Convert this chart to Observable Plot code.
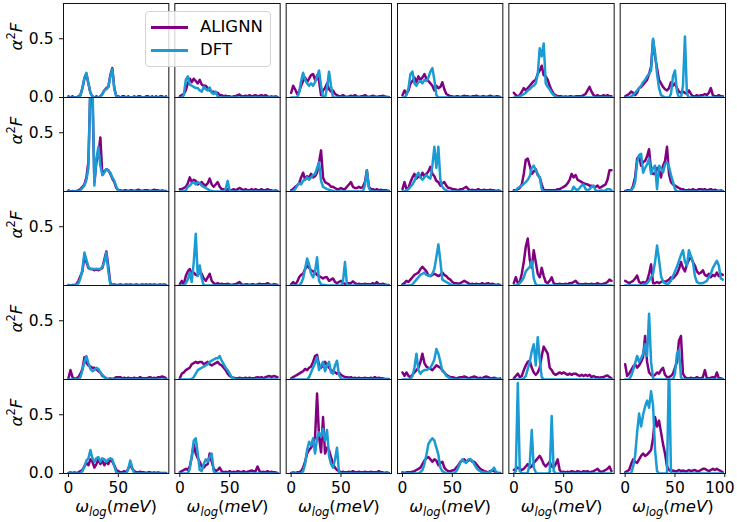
<!DOCTYPE html>
<html>
<head>
<meta charset="utf-8">
<script src="https://cdn.jsdelivr.net/npm/d3@7"></script>
<script src="https://cdn.jsdelivr.net/npm/@observablehq/plot@0.6"></script>
<style>
  body { margin: 0; background: #fff; }
  #wrap { position: relative; width: 737px; height: 522px; font-family: "DejaVu Sans", sans-serif; }
  #legend { position: absolute; left: 145px; top: 11px; width: 126px; height: 56px; box-sizing: border-box;
            border: 1px solid #d3d3d3; border-radius: 4px; background: rgba(255,255,255,0.8); z-index: 2; }
  .lg-line { position: absolute; left: 5px; width: 37px; height: 2.5px; }
  .lg-text { position: absolute; left: 54px; height: 20px; line-height: 20px; font-size: 16.5px; color: #000; }
</style>
</head>
<body>
<div id="wrap">
  <div id="legend">
    <div class="lg-line" style="top:14px;background:#800080"></div>
    <div class="lg-text" style="top:5px">ALIGNN</div>
    <div class="lg-line" style="top:37px;background:#1a9bd3"></div>
    <div class="lg-text" style="top:28px">DFT</div>
  </div>
</div>
<script>
// x grid (meV)
const omega = [0,2,4,6,8,10,12,14,16,18,20,22,24,26,28,30,32,34,36,38,40,42,44,46,48,50,52,54,56,58,60,62,64,66,68,70,72,74,76,78,80,82,84,86,88,90,92,94,96,98];

// ---- Row 1 ----
const alignn_r1c1 = [0.01,0,0.01,0,0,0.01,0.02,0.08,0.16,0.2, 0.12,0.04,0.01,0,0.01,0,0.01,0.03,0.06,0.08, 0.09,0.19,0.25,0.08,0.01,0.01,0,0.01,0.01,0, 0.01,0,0,0.01,0,0.01,0.01,0,0,0.01, 0.01,0,0.01,0,0.01,0,0.01,0.01,0,0.01];
const dft_r1c1    = [0,0,0,0,0,0,0.02,0.08,0.17,0.21, 0.12,0.04,0.01,0,0,0,0.01,0.03,0.06,0.07, 0.09,0.18,0.24,0.07,0.01,0,0,0,0,0, 0,0,0,0,0,0,0,0,0,0, 0,0,0,0,0,0,0,0,0,0];
const alignn_r1c2 = [0.01,0.02,0.03,0.06,0.12,0.16,0.13,0.16,0.14,0.12, 0.15,0.11,0.1,0.1,0.08,0.06,0.05,0.05,0.035,0.04, 0.02,0.02,0.01,0.015,0.01,0.01,0.005,0.01,0.01,0.02, 0.025,0.01,0.01,0.015,0.01,0.02,0.01,0.015,0.02,0.01, 0.015,0.02,0.01,0.02,0.01,0.005,0.01,0.005,0.01,0.005];
const dft_r1c2    = [0,0,0.02,0.15,0.18,0.11,0.1,0.09,0.08,0.08, 0.06,0.05,0.09,0.07,0.06,0.085,0.04,0.03,0.05,0.01, 0,0,0,0,0,0,0,0,0,0, 0,0,0,0,0,0,0,0,0,0, 0,0,0,0,0,0,0,0,0,0];
const alignn_r1c3 = [0.04,0.1,0.07,0.03,0.05,0.1,0.14,0.17,0.13,0.16, 0.19,0.2,0.15,0.19,0.14,0.02,0.06,0.08,0.12,0.07, 0.05,0.06,0.03,0.02,0.01,0.01,0.02,0.01,0.005,0.01, 0.015,0.01,0.02,0.01,0.005,0.01,0.01,0.02,0.01,0.005, 0.01,0.015,0.01,0.005,0.01,0.01,0.015,0.01,0.005,0.005];
const dft_r1c3    = [0,0,0,0,0.04,0.14,0.21,0.15,0.12,0.1, 0.12,0.1,0.13,0.18,0.23,0.1,0,0,0.08,0.22, 0.1,0,0,0,0,0,0,0,0,0, 0,0,0,0,0,0,0,0,0,0, 0,0,0,0,0,0,0,0,0,0];
const alignn_r1c4 = [0.02,0.06,0.03,0.06,0.12,0.14,0.17,0.13,0.18,0.15, 0.17,0.2,0.16,0.14,0.12,0.1,0.06,0.1,0.08,0.09, 0.13,0.07,0.03,0.02,0.01,0.01,0.005,0.01,0.01,0.005, 0.01,0.015,0.01,0.01,0.005,0.01,0.01,0.015,0.01,0.005, 0.01,0.01,0.005,0.01,0.015,0.01,0.005,0.01,0.01,0.005];
const dft_r1c4    = [0,0,0.02,0.08,0.2,0.22,0.12,0.1,0.13,0.14, 0.12,0.15,0.14,0.17,0.22,0.25,0.15,0.02,0,0, 0,0,0,0,0,0,0,0,0,0, 0,0,0,0,0,0,0,0,0,0, 0,0,0,0,0,0,0,0,0,0];
const alignn_r1c5 = [0.04,0.02,0.01,0.02,0.05,0.08,0.06,0.08,0.1,0.12, 0.14,0.15,0.2,0.23,0.27,0.19,0.18,0.15,0.1,0.06, 0.03,0.02,0.01,0.01,0.01,0.005,0.01,0.005,0.01,0.01, 0.005,0.01,0.01,0.01,0.01,0.02,0.03,0.06,0.09,0.05, 0.02,0.01,0.02,0.01,0.01,0.02,0.01,0.02,0.01,0.01];
const dft_r1c5    = [0,0,0.005,0.01,0.02,0.03,0.04,0.06,0.07,0.09, 0.1,0.12,0.2,0.42,0.35,0.46,0.12,0.09,0.07,0.04, 0.02,0.01,0,0,0,0,0,0,0,0, 0,0,0,0,0,0,0,0,0,0, 0,0,0,0,0,0,0,0,0,0];
const alignn_r1c6 = [0.01,0.02,0.03,0.05,0.04,0.02,0.04,0.08,0.09,0.11, 0.13,0.15,0.2,0.26,0.49,0.35,0.25,0.15,0.12,0.09, 0.07,0.06,0.08,0.13,0.1,0.12,0.08,0.05,0.04,0.05, 0.04,0.03,0.06,0.03,0.01,0.01,0.02,0.01,0.02,0.02, 0.03,0.02,0.04,0.08,0.02,0.01,0.01,0.02,0.01,0.01];
const dft_r1c6    = [0,0,0,0.01,0.02,0.04,0.06,0.08,0.1,0.13, 0.15,0.18,0.2,0.23,0.5,0.38,0.2,0.08,0.02,0.01, 0,0,0,0.03,0.18,0.23,0.05,0,0,0.1, 0.52,0.03,0,0,0,0,0,0,0,0, 0,0,0,0,0,0,0,0,0,0];

// ---- Row 2 ----
const alignn_r2c1 = [0.01,0,0.005,0,0.005,0.01,0.02,0.04,0.06,0.12, 0.25,0.9,0.85,0.08,0.25,0.32,0.46,0.14,0.17,0.19, 0.18,0.15,0.11,0.08,0.03,0.01,0.01,0.005,0.01,0.01, 0.005,0.01,0.01,0.005,0.01,0.015,0.01,0.005,0.01,0.01, 0.01,0.005,0.01,0.015,0.01,0.01,0.005,0.01,0.005,0.005];
const dft_r2c1    = [0,0,0,0,0,0,0.01,0.03,0.05,0.1, 0.2,0.95,0.95,0.05,0.28,0.38,0.22,0.14,0.16,0.19, 0.18,0.16,0.12,0.09,0.04,0.01,0,0,0,0, 0,0,0,0,0,0,0,0,0,0, 0,0,0,0,0,0,0,0,0,0];
const alignn_r2c2 = [0.02,0.02,0.03,0.04,0.07,0.12,0.08,0.1,0.09,0.06, 0.07,0.08,0.06,0.05,0.07,0.11,0.06,0.04,0.06,0.08, 0.04,0.02,0.02,0.01,0.02,0.01,0.01,0.02,0.01,0.02, 0.03,0.02,0.01,0.02,0.01,0.01,0.02,0.01,0.02,0.01, 0.01,0.02,0.01,0.01,0.02,0.01,0.01,0.005,0.01,0.005];
const dft_r2c2    = [0,0,0,0.01,0.04,0.05,0.07,0.08,0.06,0.08, 0.07,0.05,0.04,0.03,0.02,0.01,0.005,0,0,0, 0,0,0,0.02,0.09,0.01,0,0,0,0, 0,0,0,0,0,0,0,0,0,0, 0,0,0,0,0,0,0,0,0,0];
const alignn_r2c3 = [0.01,0.02,0.04,0.05,0.07,0.12,0.16,0.1,0.13,0.12, 0.15,0.12,0.13,0.16,0.25,0.35,0.12,0.08,0.07,0.06, 0.04,0.04,0.03,0.02,0.02,0.03,0.02,0.02,0.04,0.06, 0.08,0.04,0.03,0.03,0.04,0.03,0.04,0.08,0.18,0.04, 0.02,0.02,0.01,0.02,0.01,0.015,0.01,0.01,0.01,0.005];
const dft_r2c3    = [0,0.005,0.02,0.05,0.07,0.06,0.09,0.1,0.12,0.1, 0.12,0.14,0.15,0.2,0.25,0.09,0.04,0.03,0.02,0.015, 0.01,0.005,0,0,0,0,0,0,0,0, 0,0,0,0,0,0,0,0.05,0.18,0.03, 0,0,0,0,0,0,0,0,0,0];
const alignn_r2c4 = [0.02,0.08,0.02,0.03,0.08,0.12,0.15,0.11,0.13,0.12, 0.16,0.13,0.15,0.17,0.21,0.15,0.13,0.09,0.08,0.05, 0.07,0.08,0.05,0.03,0.03,0.02,0.02,0.015,0.01,0.02, 0.02,0.03,0.04,0.02,0.01,0.015,0.01,0.01,0.02,0.01, 0.01,0.015,0.01,0.01,0.015,0.01,0.01,0.005,0.01,0.005];
const dft_r2c4    = [0,0,0.01,0.02,0.04,0.06,0.09,0.13,0.16,0.12, 0.1,0.12,0.14,0.12,0.11,0.22,0.38,0.2,0.38,0.1, 0.04,0.02,0.01,0,0,0,0,0,0,0, 0,0,0,0,0,0,0,0,0,0, 0,0,0,0,0,0,0,0,0,0];
const alignn_r2c5 = [0.01,0.01,0.02,0.03,0.06,0.15,0.27,0.28,0.22,0.15, 0.17,0.19,0.14,0.12,0.06,0.01,0.01,0.01,0.01,0.01, 0.01,0.01,0.02,0.02,0.03,0.04,0.05,0.07,0.1,0.15, 0.12,0.14,0.1,0.09,0.08,0.07,0.065,0.06,0.05,0.05, 0.04,0.04,0.05,0.03,0.04,0.05,0.06,0.1,0.18,0.18];
const dft_r2c5    = [0,0.01,0.03,0.04,0.05,0.065,0.08,0.1,0.13,0.2, 0.22,0.18,0.15,0.12,0.02,0,0,0,0,0, 0,0,0,0,0,0,0,0,0,0, 0.04,0.02,0.01,0.03,0.05,0.06,0.02,0.01,0.02,0.04, 0.05,0.01,0.005,0.005,0.01,0.005,0.01,0.02,0.02,0.01];
const alignn_r2c6 = [0.005,0.01,0.01,0.01,0.05,0.12,0.28,0.3,0.22,0.25, 0.26,0.3,0.36,0.18,0.15,0.15,0.2,0.18,0.12,0.22, 0.26,0.38,0.15,0.08,0.06,0.05,0.04,0.03,0.02,0.02, 0.01,0.01,0.015,0.01,0.02,0.01,0.01,0.02,0.02,0.015, 0.02,0.01,0.015,0.02,0.01,0.015,0.01,0.005,0.01,0.005];
const dft_r2c6    = [0,0,0.005,0.01,0.03,0.08,0.25,0.31,0.32,0.16, 0.2,0.23,0.28,0.15,0.2,0.22,0.02,0.22,0.2,0.16, 0.23,0.25,0.21,0.14,0.08,0.02,0,0,0,0, 0,0,0,0,0,0,0,0,0,0, 0,0,0,0,0,0,0,0,0,0];

// ---- Row 3 ----
const alignn_r3c1 = [0.005,0,0.005,0.005,0.01,0.04,0.08,0.12,0.25,0.2, 0.15,0.14,0.14,0.13,0.14,0.13,0.14,0.15,0.22,0.29, 0.16,0.02,0.005,0.01,0.005,0.005,0.01,0.005,0.005,0.01, 0.005,0.01,0.005,0.005,0.01,0.005,0.005,0.01,0.005,0.01, 0.005,0.01,0.005,0.01,0.005,0.005,0.01,0.005,0.01,0.005];
const dft_r3c1    = [0,0,0,0,0,0.02,0.06,0.14,0.28,0.22, 0.16,0.14,0.14,0.14,0.14,0.14,0.14,0.16,0.2,0.28, 0.12,0.01,0,0,0,0,0,0,0,0, 0,0,0,0,0,0,0,0,0,0, 0,0,0,0,0,0,0,0,0,0];
const alignn_r3c2 = [0.01,0.04,0.01,0.08,0.12,0.14,0.1,0.11,0.09,0.085, 0.12,0.1,0.06,0.04,0.07,0.1,0.04,0.02,0.01,0.02, 0.01,0.015,0.01,0.01,0.015,0.01,0.005,0.01,0.01,0.02, 0.03,0.01,0.005,0.01,0.01,0.005,0.01,0.01,0.005,0.01, 0.015,0.01,0.01,0.01,0.02,0.01,0.005,0.01,0.01,0.005];
const dft_r3c2    = [0,0,0,0.02,0.05,0.11,0.03,0.2,0.44,0.08, 0.17,0.06,0,0,0,0,0,0,0,0, 0,0,0,0,0,0,0,0,0,0, 0,0,0,0,0,0,0,0,0,0, 0,0,0,0,0,0,0,0,0,0];
const alignn_r3c3 = [0.01,0.03,0.01,0.03,0.07,0.09,0.1,0.14,0.17,0.15, 0.13,0.12,0.11,0.09,0.08,0.07,0.06,0.07,0.07,0.04, 0.05,0.06,0.03,0.02,0.03,0.04,0.02,0.015,0.01,0.02, 0.02,0.035,0.02,0.01,0.015,0.01,0.01,0.015,0.01,0.01, 0.01,0.02,0.01,0.03,0.01,0.01,0.015,0.01,0.005,0.005];
const dft_r3c3    = [0,0,0,0,0,0.02,0.06,0.14,0.23,0.18, 0.1,0.07,0.12,0.24,0.04,0.01,0.005,0.005,0,0, 0,0,0,0,0,0,0.03,0.2,0.01,0, 0,0,0,0,0,0,0,0,0,0, 0,0,0,0,0,0,0,0,0,0];
const alignn_r3c4 = [0.01,0.02,0.04,0.03,0.05,0.07,0.09,0.1,0.11,0.14, 0.16,0.14,0.12,0.085,0.08,0.09,0.1,0.09,0.08,0.09, 0.11,0.09,0.08,0.06,0.05,0.03,0.02,0.02,0.015,0.02, 0.03,0.04,0.03,0.02,0.01,0.015,0.01,0.015,0.01,0.01, 0.02,0.01,0.015,0.02,0.01,0.015,0.01,0.005,0.01,0.005];
const dft_r3c4    = [0,0,0,0,0,0.01,0.03,0.05,0.07,0.09, 0.1,0.11,0.09,0.085,0.08,0.1,0.14,0.24,0.35,0.21, 0.05,0.04,0.03,0.02,0.01,0.005,0,0,0,0, 0,0,0,0,0,0,0,0,0,0, 0,0,0,0,0,0,0,0,0,0];
const alignn_r3c5 = [0.02,0.07,0.02,0.03,0.1,0.2,0.33,0.4,0.22,0.15, 0.3,0.2,0.1,0.07,0.15,0.08,0.03,0.02,0.04,0.07, 0.02,0.01,0.01,0.015,0.01,0.01,0.015,0.01,0.02,0.02, 0.03,0.04,0.02,0.01,0.01,0.01,0.015,0.01,0.01,0.015, 0.01,0.01,0.02,0.01,0.01,0.015,0.02,0.03,0.05,0.04];
const dft_r3c5    = [0,0,0.01,0.02,0.04,0.07,0.12,0.14,0.16,0.21, 0.06,0.01,0,0,0,0,0,0,0,0, 0,0,0,0,0,0,0,0,0,0, 0,0,0,0,0,0,0,0,0,0, 0,0,0,0,0,0,0,0,0,0];
const alignn_r3c6 = [0.04,0.03,0.02,0.03,0.04,0.06,0.085,0.03,0.02,0.03, 0.02,0.04,0.1,0.18,0.02,0.02,0.03,0.02,0.03,0.04, 0.03,0.04,0.05,0.07,0.06,0.08,0.1,0.14,0.2,0.15, 0.12,0.18,0.22,0.24,0.2,0.17,0.12,0.1,0.11,0.13, 0.09,0.08,0.1,0.07,0.09,0.08,0.11,0.08,0.1,0.09];
const dft_r3c6    = [0,0,0,0,0,0,0,0,0,0, 0.01,0.02,0.04,0.07,0.1,0.2,0.34,0.22,0.08,0.03, 0.02,0.01,0.02,0.04,0.08,0.12,0.16,0.21,0.26,0.3, 0.2,0.17,0.3,0.25,0.2,0.08,0.03,0.02,0.02,0.02, 0.03,0.04,0.07,0.1,0.15,0.18,0.21,0.17,0.06,0.05];

// ---- Row 4 ----
const alignn_r4c1 = [0.01,0.08,0.02,0.005,0.01,0.02,0.05,0.09,0.19,0.14, 0.12,0.11,0.1,0.1,0.09,0.07,0.06,0.03,0.02,0.01, 0.005,0.01,0.005,0.01,0.02,0.02,0.02,0.01,0.015,0.01, 0.015,0.01,0.01,0.015,0.01,0.01,0.02,0.01,0.01,0.01, 0.015,0.02,0.01,0.015,0.01,0.02,0.02,0.025,0.02,0.01];
const dft_r4c1    = [0,0,0,0,0,0,0.02,0.08,0.15,0.2, 0.14,0.09,0.07,0.08,0.1,0.09,0.06,0.04,0.02,0.005, 0,0,0,0,0,0,0,0,0,0, 0,0,0,0,0,0,0,0,0,0, 0,0,0,0,0,0,0,0,0,0];
const alignn_r4c2 = [0.01,0.05,0.06,0.08,0.09,0.1,0.13,0.14,0.15,0.14, 0.15,0.15,0.13,0.14,0.15,0.13,0.12,0.13,0.14,0.15, 0.13,0.12,0.1,0.08,0.05,0.03,0.02,0.015,0.01,0.01, 0.015,0.01,0.01,0.015,0.01,0.015,0.01,0.01,0.015,0.02, 0.015,0.02,0.01,0.02,0.025,0.03,0.02,0.03,0.025,0.02];
const dft_r4c2    = [0,0,0,0,0,0,0.005,0.02,0.05,0.08, 0.09,0.1,0.11,0.12,0.13,0.15,0.16,0.17,0.18,0.18, 0.2,0.16,0.13,0.1,0.08,0.05,0.02,0.01,0,0, 0,0,0,0,0,0,0,0,0,0, 0,0,0,0,0,0,0,0,0,0];
const alignn_r4c3 = [0.01,0.02,0.03,0.04,0.05,0.06,0.07,0.09,0.08,0.1, 0.11,0.15,0.2,0.21,0.12,0.1,0.12,0.15,0.12,0.1, 0.08,0.07,0.06,0.05,0.06,0.04,0.03,0.02,0.02,0.015, 0.02,0.01,0.015,0.01,0.015,0.01,0.01,0.015,0.01,0.01, 0.015,0.01,0.02,0.01,0.015,0.01,0.01,0.005,0.005,0.005];
const dft_r4c3    = [0,0,0,0,0,0,0,0,0,0.02, 0.06,0.1,0.14,0.19,0.08,0.12,0.15,0.07,0.12,0.15, 0.06,0.05,0.12,0.16,0.04,0.01,0,0,0,0, 0,0,0,0,0,0,0,0,0,0, 0,0,0,0,0,0,0,0,0,0];
const alignn_r4c4 = [0.06,0.03,0.06,0.03,0.02,0.04,0.06,0.08,0.1,0.15, 0.22,0.14,0.11,0.1,0.09,0.08,0.1,0.12,0.11,0.1, 0.08,0.06,0.04,0.03,0.02,0.02,0.015,0.01,0.015,0.02, 0.02,0.025,0.02,0.01,0.015,0.02,0.025,0.02,0.01,0.015, 0.01,0.02,0.025,0.02,0.01,0.01,0.015,0.01,0.005,0.01];
const dft_r4c4    = [0,0,0,0,0.005,0.03,0.1,0.22,0.08,0.05, 0.07,0.08,0.08,0.09,0.1,0.13,0.17,0.26,0.22,0.15, 0.07,0.06,0.03,0.02,0.01,0,0,0,0,0, 0,0,0,0,0,0,0,0,0,0, 0,0,0,0,0,0,0,0,0,0];
const alignn_r4c5 = [0.01,0.03,0.05,0.02,0.03,0.08,0.12,0.15,0.16,0.1, 0.06,0.04,0.06,0.1,0.2,0.28,0.25,0.22,0.1,0.08, 0.05,0.04,0.05,0.06,0.05,0.06,0.05,0.04,0.05,0.04, 0.05,0.05,0.04,0.03,0.04,0.03,0.04,0.03,0.04,0.02, 0.03,0.02,0.02,0.015,0.02,0.02,0.03,0.035,0.02,0.01];
const dft_r4c5    = [0,0,0,0,0,0.01,0.03,0.09,0.15,0.24, 0.3,0.12,0.36,0.17,0.02,0,0,0,0,0, 0,0,0,0,0,0,0,0,0,0, 0,0,0,0,0,0,0,0,0,0, 0,0,0,0,0,0,0,0,0,0];
const alignn_r4c6 = [0.13,0.03,0.05,0.08,0.11,0.13,0.1,0.12,0.15,0.19, 0.37,0.15,0.06,0.04,0.03,0.04,0.06,0.05,0.08,0.1, 0.04,0.02,0.02,0.03,0.05,0.1,0.15,0.33,0.37,0.05, 0.02,0.01,0.01,0.015,0.01,0.01,0.02,0.01,0.01,0.02, 0.08,0.01,0.01,0.015,0.02,0.01,0.06,0.01,0.01,0.005];
const dft_r4c6    = [0,0,0,0.03,0.08,0.14,0.2,0.15,0.18,0.22, 0.3,0.2,0.56,0.15,0.01,0,0,0,0,0, 0,0,0,0,0,0.05,0.22,0.25,0.02,0, 0,0,0,0,0,0,0,0,0,0, 0,0,0,0,0,0,0,0,0,0];

// ---- Row 5 ----
const alignn_r5c1 = [0.005,0.01,0.005,0.01,0.005,0.01,0.02,0.03,0.06,0.09, 0.07,0.12,0.1,0.05,0.08,0.12,0.08,0.11,0.07,0.1, 0.08,0.12,0.1,0.07,0.03,0.02,0.01,0.01,0.02,0.01, 0.04,0.08,0.04,0.02,0.01,0.01,0.015,0.01,0.01,0.005, 0.01,0.01,0.005,0.01,0.005,0.01,0.005,0.005,0.005,0.005];
const dft_r5c1    = [0,0,0,0,0,0,0,0.02,0.06,0.11, 0.13,0.2,0.13,0.1,0.13,0.14,0.1,0.13,0.12,0.1, 0.12,0.13,0.12,0.06,0.01,0,0,0,0,0, 0.04,0.11,0.05,0,0,0,0,0,0,0, 0,0,0,0,0,0,0,0,0,0];
const alignn_r5c2 = [0.01,0.02,0.03,0.04,0.03,0.06,0.14,0.25,0.17,0.13, 0.1,0.06,0.05,0.07,0.08,0.17,0.1,0.04,0.02,0.03, 0.05,0.02,0.01,0.015,0.01,0.02,0.01,0.015,0.01,0.02, 0.015,0.01,0.02,0.01,0.015,0.02,0.025,0.02,0.02,0.06, 0.02,0.01,0.015,0.01,0.02,0.01,0.015,0.01,0.01,0.005];
const dft_r5c2    = [0,0,0,0,0,0.04,0.15,0.28,0.3,0.17, 0.03,0.02,0.08,0.12,0.1,0.14,0.17,0.02,0,0, 0,0,0,0,0,0,0,0,0,0, 0,0,0,0,0,0,0,0,0,0, 0,0,0,0,0,0,0,0,0,0];
const alignn_r5c3 = [0.005,0.01,0.005,0.01,0.01,0.02,0.05,0.1,0.17,0.2, 0.22,0.26,0.31,0.68,0.31,0.18,0.48,0.17,0.22,0.2, 0.14,0.08,0.05,0.03,0.02,0.01,0.015,0.01,0.01,0.015, 0.01,0.02,0.01,0.01,0.015,0.01,0.01,0.015,0.01,0.01, 0.015,0.01,0.01,0.01,0.02,0.01,0.01,0.005,0.01,0.005];
const dft_r5c3    = [0,0,0,0,0,0,0.02,0.08,0.2,0.27, 0.24,0.3,0.17,0.3,0.35,0.31,0.38,0.28,0.37,0.15, 0.08,0.05,0.12,0.22,0.01,0,0,0,0,0, 0,0,0,0,0,0,0,0,0,0, 0,0,0,0,0,0,0,0,0,0];
const alignn_r5c4 = [0.01,0.005,0.01,0.01,0.01,0.015,0.02,0.03,0.04,0.05, 0.08,0.11,0.13,0.14,0.12,0.1,0.12,0.11,0.07,0.09, 0.1,0.05,0.03,0.02,0.02,0.025,0.03,0.05,0.07,0.1, 0.11,0.12,0.1,0.11,0.12,0.1,0.1,0.08,0.06,0.04, 0.03,0.02,0.015,0.01,0.02,0.025,0.02,0.01,0.005,0.005];
const dft_r5c4    = [0,0,0,0,0,0,0,0,0,0.01, 0.03,0.08,0.16,0.25,0.28,0.3,0.28,0.22,0.16,0.05, 0.02,0.01,0,0,0,0,0,0.02,0.05,0.09, 0.12,0.1,0.09,0.12,0.12,0.11,0.08,0.05,0.03,0.02, 0.01,0.01,0.005,0.01,0.01,0.03,0.05,0.01,0,0];
const alignn_r5c5 = [0.03,0.04,0.05,0.04,0.03,0.04,0.06,0.08,0.05,0.06, 0.09,0.11,0.13,0.15,0.12,0.08,0.06,0.08,0.1,0.06, 0.05,0.08,0.12,0.03,0.01,0.015,0.01,0.015,0.01,0.02, 0.015,0.01,0.02,0.015,0.01,0.02,0.015,0.02,0.01,0.015, 0.02,0.03,0.04,0.02,0.015,0.02,0.03,0.04,0.06,0.02];
const dft_r5c5    = [0,0.02,0.77,0.02,0.005,0,0,0.01,0.08,0.37, 0.05,0.01,0,0,0,0,0,0,0.01,0.49, 0.02,0,0,0,0,0,0,0,0,0, 0,0,0,0,0,0,0,0,0,0, 0,0,0,0,0,0,0,0,0,0];
const alignn_r5c6 = [0.01,0.02,0.03,0.08,0.12,0.1,0.09,0.12,0.15,0.17, 0.15,0.16,0.18,0.2,0.3,0.48,0.4,0.45,0.35,0.25, 0.17,0.06,0.03,0.02,0.025,0.02,0.02,0.03,0.02,0.025, 0.02,0.02,0.03,0.02,0.025,0.03,0.02,0.02,0.03,0.04, 0.04,0.03,0.02,0.03,0.04,0.03,0.04,0.03,0.02,0.01];
const dft_r5c6    = [0,0,0,0,0.06,0.15,0.35,0.51,0.4,0.5, 0.57,0.62,0.56,0.7,0.58,0.2,0.02,0,0,0, 0,0,0.95,0,0,0,0,0,0,0, 0,0,0,0,0,0,0,0,0,0, 0,0,0,0,0,0,0,0,0,0];

// tick values
const xTicksMain = [0, 50];
const xTicksLast = [0, 50, 100];
const yTicksEdge = [0, 0.5];
const yTicksInner = [0.5];
const seriesNames = ["ALIGNN", "DFT"];
const seriesColors = ["#800080", "#1a9bd3"];

const alignnGrid = [
  [alignn_r1c1, alignn_r1c2, alignn_r1c3, alignn_r1c4, alignn_r1c5, alignn_r1c6],
  [alignn_r2c1, alignn_r2c2, alignn_r2c3, alignn_r2c4, alignn_r2c5, alignn_r2c6],
  [alignn_r3c1, alignn_r3c2, alignn_r3c3, alignn_r3c4, alignn_r3c5, alignn_r3c6],
  [alignn_r4c1, alignn_r4c2, alignn_r4c3, alignn_r4c4, alignn_r4c5, alignn_r4c6],
  [alignn_r5c1, alignn_r5c2, alignn_r5c3, alignn_r5c4, alignn_r5c5, alignn_r5c6]
];
const dftGrid = [
  [dft_r1c1, dft_r1c2, dft_r1c3, dft_r1c4, dft_r1c5, dft_r1c6],
  [dft_r2c1, dft_r2c2, dft_r2c3, dft_r2c4, dft_r2c5, dft_r2c6],
  [dft_r3c1, dft_r3c2, dft_r3c3, dft_r3c4, dft_r3c5, dft_r3c6],
  [dft_r4c1, dft_r4c2, dft_r4c3, dft_r4c4, dft_r4c5, dft_r4c6],
  [dft_r5c1, dft_r5c2, dft_r5c3, dft_r5c4, dft_r5c5, dft_r5c6]
];

const rows = [];
[alignnGrid, dftGrid].forEach((grid, k) =>
  grid.forEach((rowArr, r) =>
    rowArr.forEach((vals, c) => {
      if (vals.length !== omega.length) console.warn("length mismatch", seriesNames[k], r + 1, c + 1, vals.length);
      vals.forEach((v, i) => rows.push({model: seriesNames[k], row: r, col: c, omega: omega[i], value: v}));
    })));

const cols = [0, 1, 2, 3, 4, 5];
const rws = [0, 1, 2, 3, 4];
const xTickRows = cols.flatMap(c => (c === 5 ? xTicksLast : xTicksMain).map(v => ({col: c, row: 4, v})));
const yTickRows = rws.flatMap(r => (r === 0 || r === 4 ? yTicksEdge : yTicksInner).map(v => ({col: 0, row: r, v})));
const xLabelRows = cols.map(c => ({col: c, row: 4}));
const yLabelRows = rws.map(r => ({col: 0, row: r}));
const fmtY = d3.format(".1f");

const svg = Plot.plot({
  width: 737,
  height: 522,
  marginLeft: 63,
  marginRight: 12,
  marginTop: 3,
  marginBottom: 49,
  style: {fontFamily: "DejaVu Sans, sans-serif", fontSize: "15.5px", background: "white", overflow: "visible", color: "black"},
  x: {domain: [-5, 100.7], axis: null},
  y: {domain: [0, 0.8], axis: null},
  fx: {domain: cols, axis: null, paddingInner: 0.054, paddingOuter: 0, round: false},
  fy: {domain: rws, axis: null, padding: 0, round: false},
  marks: [
    Plot.line(rows, {filter: d => d.model === "ALIGNN", x: "omega", y: "value", fx: "col", fy: "row",
      stroke: seriesColors[0], strokeWidth: 2.5, clip: true}),
    Plot.line(rows, {filter: d => d.model === "DFT", x: "omega", y: "value", fx: "col", fy: "row",
      stroke: seriesColors[1], strokeWidth: 2.5, clip: true}),
    Plot.frame({stroke: "#111", strokeWidth: 1}),
    Plot.ruleY(yTickRows, {y: "v", fx: "col", fy: "row", x1: -5, x2: -9, stroke: "#111"}),
    Plot.text(yTickRows, {y: "v", fx: "col", fy: "row", text: d => fmtY(d.v), frameAnchor: "left",
      textAnchor: "end", dx: -10, fontSize: 15.5}),
    Plot.ruleX(xTickRows, {x: "v", fx: "col", fy: "row", y1: 0, y2: -0.034, stroke: "#111"}),
    Plot.text(xTickRows, {filter: d => d.v < 100, x: "v", fx: "col", fy: "row", text: d => String(d.v),
      frameAnchor: "bottom", lineAnchor: "top", dy: 8, fontSize: 15.5}),
    Plot.text(xTickRows, {filter: d => d.v >= 100, x: "v", fx: "col", fy: "row", text: d => String(d.v),
      frameAnchor: "bottom", lineAnchor: "top", dy: 8, dx: -5, fontSize: 15.5}),
    Plot.text(xLabelRows, {fx: "col", fy: "row", text: () => "XLABEL", frameAnchor: "bottom",
      lineAnchor: "middle", dy: 33, fontSize: 16.5}),
    Plot.text(yLabelRows, {fx: "col", fy: "row", text: () => "YLABEL", frameAnchor: "left",
      lineAnchor: "middle", rotate: -90, dx: -47, fontSize: 16.5})
  ]
});

// math-style labels (ω_log(meV) and α²F)
d3.select(svg).selectAll("text").each(function () {
  const t = this.textContent;
  const s = d3.select(this);
  if (t === "XLABEL") {
    s.text(null);
    s.append("tspan").attr("font-style", "italic").text("ω");
    s.append("tspan").attr("font-style", "italic").attr("font-size", "11.5px").attr("dy", "4").text("log");
    s.append("tspan").attr("dy", "-4").text("(");
    s.append("tspan").attr("font-style", "italic").text("meV");
    s.append("tspan").text(")");
  } else if (t === "YLABEL") {
    s.text(null);
    s.append("tspan").attr("font-style", "italic").text("α");
    s.append("tspan").attr("font-size", "11.5px").attr("dy", "-7").text("2");
    s.append("tspan").attr("font-style", "italic").attr("dy", "7").text("F");
  }
});

document.getElementById("wrap").prepend(svg);
</script>
</body>
</html>
